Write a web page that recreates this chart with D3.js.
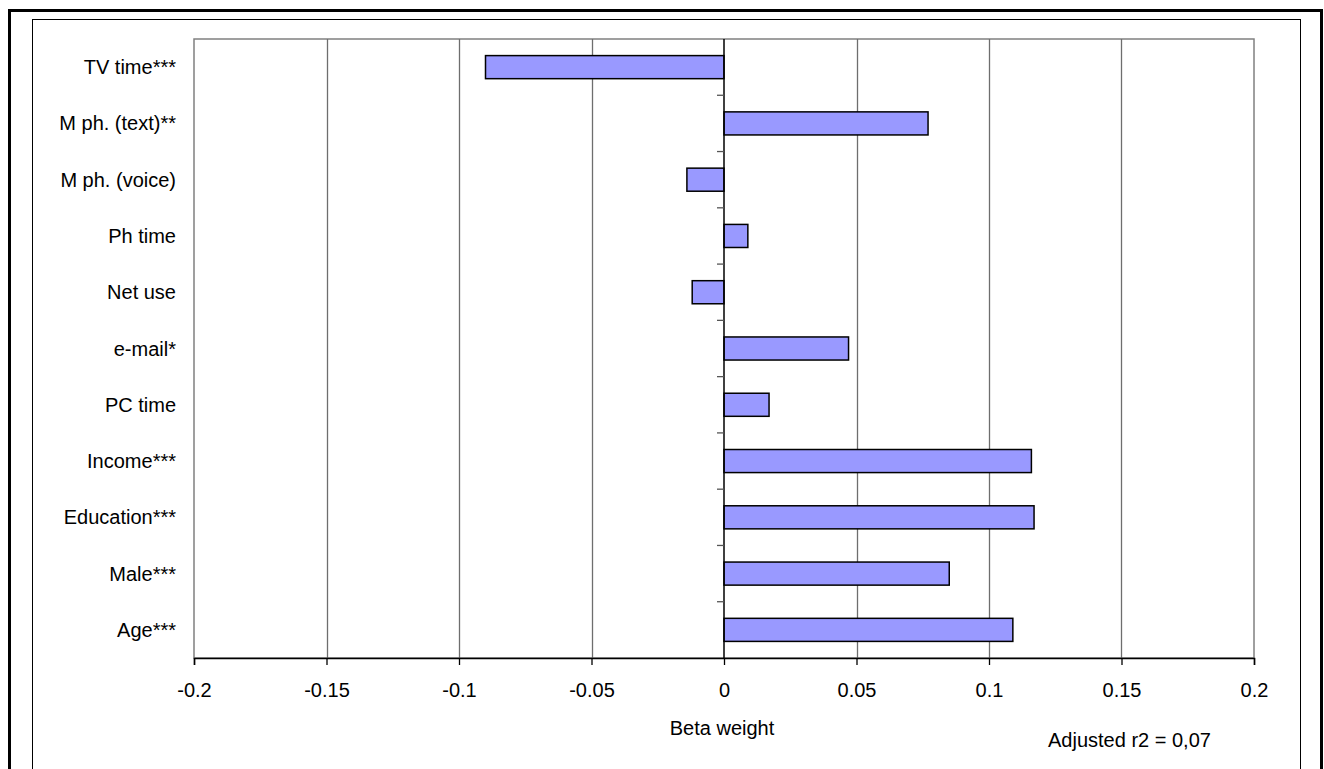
<!DOCTYPE html>
<html>
<head>
<meta charset="utf-8">
<script src="https://cdn.jsdelivr.net/npm/d3@7"></script>
<style>
  html, body { margin: 0; padding: 0; background: #fff; }
  svg { display: block; }
  text { font-family: "Liberation Sans", Arial, sans-serif; fill: #000; }
</style>
</head>
<body>
<svg id="chart" width="1324" height="769"></svg>
<script>
const categories = ["TV time***", "M ph. (text)**", "M ph. (voice)", "Ph time", "Net use",
  "e-mail*", "PC time", "Income***", "Education***", "Male***", "Age***"];
const betaValues = [-0.090, 0.077, -0.014, 0.009, -0.012, 0.047, 0.017, 0.116, 0.117, 0.085, 0.109];
const xTicks = [-0.2, -0.15, -0.1, -0.05, 0, 0.05, 0.1, 0.15, 0.2];
const xTickLabels = ["-0.2", "-0.15", "-0.1", "-0.05", "0", "0.05", "0.1", "0.15", "0.2"];
const xTitle = "Beta weight";
const note = "Adjusted r2 = 0,07";

const svg = d3.select("#chart");
const W = 1324, H = 769;
const plot = { left: 194, right: 1254, top: 39, bottom: 658 };
const fontSize = 20;

// frames
svg.append("rect").attr("x", 9.5).attr("y", 10.5).attr("width", 1312).attr("height", 800)
  .attr("fill", "none").attr("stroke", "#000").attr("stroke-width", 3);
svg.append("rect").attr("x", 32.5).attr("y", 19.5).attr("width", 1268).attr("height", 800)
  .attr("fill", "none").attr("stroke", "#000").attr("stroke-width", 1);

const x = d3.scaleLinear().domain([-0.2, 0.2]).range([plot.left, plot.right]);
const y = d3.scaleBand().domain(categories).range([plot.top, plot.bottom]).paddingInner(0.59).paddingOuter(0.295);
const yb = d3.scaleBand().domain(categories).range([plot.top, plot.bottom]);

// plot area border
svg.append("rect").attr("x", plot.left).attr("y", plot.top)
  .attr("width", plot.right - plot.left).attr("height", plot.bottom - plot.top)
  .attr("fill", "#fff").attr("stroke", "#808080").attr("stroke-width", 1.5);

// vertical gridlines
svg.append("g").selectAll("line").data(xTicks.filter(d => d !== 0 && d !== -0.2 && d !== 0.2)).join("line")
  .attr("x1", d => Math.round(x(d)) + 0.5).attr("x2", d => Math.round(x(d)) + 0.5)
  .attr("y1", plot.top).attr("y2", plot.bottom)
  .attr("stroke", "#6e6e6e").attr("stroke-width", 1.3);

// bars
svg.append("g").selectAll("rect").data(categories).join("rect")
  .attr("x", (d, i) => x(Math.min(0, betaValues[i])))
  .attr("width", (d, i) => Math.abs(x(betaValues[i]) - x(0)))
  .attr("y", d => y(d))
  .attr("height", y.bandwidth())
  .attr("fill", "#9999ff").attr("stroke", "#000").attr("stroke-width", 1.5);

// y axis at zero with ticks at band boundaries
const yAxisG = svg.append("g");
yAxisG.append("line").attr("x1", x(0)).attr("x2", x(0)).attr("y1", plot.top).attr("y2", plot.bottom)
  .attr("stroke", "#000").attr("stroke-width", 1.5);
yAxisG.selectAll("line.tk").data(categories.slice(1)).join("line").attr("class", "tk")
  .attr("x1", x(0) - 7).attr("x2", x(0))
  .attr("y1", d => yb(d)).attr("y2", d => yb(d))
  .attr("stroke", "#555").attr("stroke-width", 1.3);

// category labels
svg.append("g").selectAll("text").data(categories).join("text")
  .attr("x", 176).attr("y", d => yb(d) + yb.bandwidth() / 2)
  .attr("text-anchor", "end").attr("dominant-baseline", "central")
  .attr("font-size", fontSize).text(d => d);

// x axis
const xAxis = d3.axisBottom(x).tickValues(xTicks).tickSize(7)
  .tickFormat((d, i) => xTickLabels[i]);
const xg = svg.append("g").attr("transform", `translate(0,${plot.bottom})`).call(xAxis);
xg.select(".domain").attr("stroke", "#000").attr("stroke-width", 1.5);
xg.selectAll(".tick line").attr("stroke", "#000").attr("stroke-width", 1.3);
xg.selectAll(".tick text").attr("font-size", fontSize).attr("font-family", "Liberation Sans, Arial, sans-serif")
  .attr("fill", "#000").attr("dy", null).attr("y", 32).attr("dominant-baseline", "central");

// x title
svg.append("text").attr("x", x(0) - 2).attr("y", 728).attr("text-anchor", "middle")
  .attr("dominant-baseline", "central").attr("font-size", fontSize).text(xTitle);

// note
svg.append("text").attr("x", 1048).attr("y", 740).attr("text-anchor", "start")
  .attr("dominant-baseline", "central").attr("font-size", fontSize).text(note);
</script>
</body>
</html>
